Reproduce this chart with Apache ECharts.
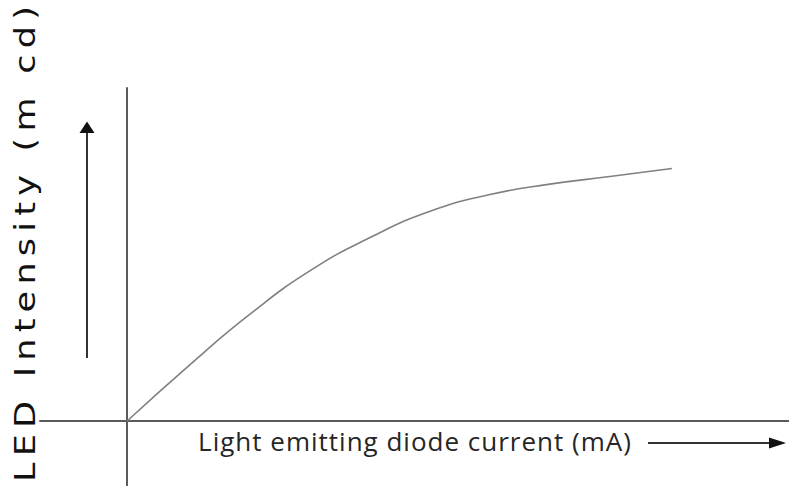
<!DOCTYPE html>
<html>
<head>
<meta charset="utf-8">
<script src="https://cdn.jsdelivr.net/npm/echarts@6/dist/echarts.min.js"></script>
<style>
  html, body { margin: 0; padding: 0; background: #ffffff; }
  #chart { width: 789px; height: 486px; }
</style>
</head>
<body>
<div id="chart"></div>
<script>
// Diode current (arbitrary units, origin at axes crossing)
const currentValues = [0, 11.6, 22.6, 33.6, 44.6, 55.6, 66.6, 77.6, 88.6, 100];
// LED intensity (arbitrary units)
const intensityValues = [0, 22.4, 42.3, 59.4, 72.5, 82.9, 89.5, 93.6, 96.6, 99.8];

const xAxisTitle = 'Light emitting diode current (mA)';
const yAxisTitle = 'LED Intensity (m cd)';

const X_MIN = -16, X_MAX = 121.5;
const Y_MIN = -25.7, Y_MAX = 131.6;

const chart = echarts.init(document.getElementById('chart'), null, { renderer: 'svg' });

const seriesData = currentValues.map((x, i) => [x, intensityValues[i]]);

const axisLineStyle = { color: '#5a5a5a', width: 2 };

chart.setOption({
  backgroundColor: '#ffffff',
  animation: false,
  grid: { left: 40, right: 0, top: 88, bottom: 0, containLabel: false, outerBoundsMode: 'none' },
  xAxis: {
    type: 'value',
    min: X_MIN, max: X_MAX,
    axisLine: { show: true, onZero: true, lineStyle: axisLineStyle },
    axisTick: { show: false },
    axisLabel: { show: false },
    splitLine: { show: false }
  },
  yAxis: {
    type: 'value',
    min: Y_MIN, max: Y_MAX,
    axisLine: { show: true, onZero: true, lineStyle: axisLineStyle },
    axisTick: { show: false },
    axisLabel: { show: false },
    splitLine: { show: false }
  },
  series: [{
    type: 'line',
    data: seriesData,
    smooth: 0.5,
    showSymbol: false,
    lineStyle: { color: '#808080', width: 1.6 }
  }],
  graphic: [
    { type: 'line', shape: { x1: 87, y1: 358, x2: 87, y2: 130 }, style: { stroke: '#333', lineWidth: 2 } },
    { type: 'polygon', shape: { points: [[79.5, 133], [94.5, 133], [87, 121.5]] }, style: { fill: '#111' } },
    { type: 'line', shape: { x1: 648, y1: 443, x2: 772, y2: 443 }, style: { stroke: '#333', lineWidth: 2 } },
    { type: 'polygon', shape: { points: [[769, 437.5], [769, 448.5], [786, 443]] }, style: { fill: '#111' } },
    {
      type: 'text', x: 415, y: 441,
      style: {
        text: xAxisTitle, fontFamily: 'Open Sans', fontSize: 26, fill: '#262626',
        textAlign: 'center', textVerticalAlign: 'middle'
      }
    },
    {
      type: 'text', x: 25, y: 241, rotation: Math.PI / 2, scaleX: 1.25,
      style: {
        text: yAxisTitle, fontFamily: 'DejaVu Sans', fontSize: 28, fill: '#111',
        textAlign: 'center', textVerticalAlign: 'middle'
      }
    }
  ]
});

function applySpacing() {
  document.querySelectorAll('#chart text').forEach(function (t) {
    if (t.textContent === yAxisTitle) {
      t.style.letterSpacing = '5px';
    } else if (t.textContent === xAxisTitle) {
      t.style.letterSpacing = '1px';
    }
  });
}
applySpacing();
chart.on('finished', applySpacing);
setTimeout(applySpacing, 0);
setTimeout(applySpacing, 100);
</script>
</body>
</html>
